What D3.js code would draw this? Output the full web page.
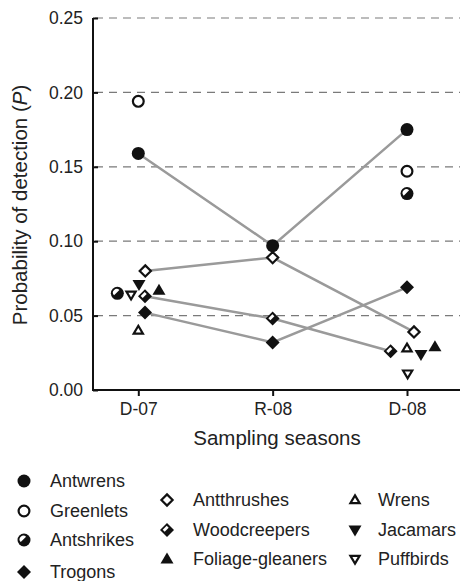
<!DOCTYPE html>
<html><head><meta charset="utf-8">
<script src="https://cdn.jsdelivr.net/npm/d3@7"></script>
<style>body{margin:0;background:#fff}svg{display:block;font-family:"Liberation Sans",Arial,sans-serif}</style>
</head><body><svg id="c" width="460" height="581"></svg>
<script>
const seasons = ["D-07", "R-08", "D-08"];
const yTicks = [0.00, 0.05, 0.10, 0.15, 0.20, 0.25];
const groups = ["Antwrens","Greenlets","Antshrikes","Trogons","Antthrushes","Woodcreepers","Foliage-gleaners","Wrens","Jacamars","Puffbirds"];
const symbols = ["circleFilled","circleOpen","circleHalf","diamondFilled","diamondOpen","diamondHalf","triUpFilled","triUpOpen","triDownFilled","triDownOpen"];
// detection probabilities per season (null = not estimated)
const antwrens      = [0.159, 0.097, 0.175];
const greenlets     = [0.194, null, 0.147];
const antshrikes    = [0.065, null, 0.132];
const trogons       = [0.052, 0.032, 0.069];
const antthrushes   = [0.080, 0.089, 0.039];
const woodcreepers  = [0.063, 0.048, 0.026];
const foliage       = [0.067, null, 0.029];
const wrens         = [0.040, null, 0.028];
const jacamars      = [0.071, null, 0.024];
const puffbirds     = [0.064, null, 0.011];
// horizontal jitter (in season units) used in the original to avoid overlap
const jitterAntwrens     = [0, 0, 0];
const jitterGreenlets    = [0, 0, 0];
const jitterAntshrikes   = [-0.156, 0, 0];
const jitterTrogons      = [0.05, 0, 0];
const jitterAntthrushes  = [0.052, 0, 0.052];
const jitterWoodcreepers = [0.05, 0, -0.122];
const jitterFoliage      = [0.154, 0, 0.208];
const jitterWrens        = [0, 0, 0];
const jitterJacamars     = [0.005, 0, 0.104];
const jitterPuffbirds    = [-0.054, 0, 0.005];
const connected = ["Antwrens","Trogons","Antthrushes","Woodcreepers"];

const values = [antwrens,greenlets,antshrikes,trogons,antthrushes,woodcreepers,foliage,wrens,jacamars,puffbirds];
const jitters = [jitterAntwrens,jitterGreenlets,jitterAntshrikes,jitterTrogons,jitterAntthrushes,jitterWoodcreepers,jitterFoliage,jitterWrens,jitterJacamars,jitterPuffbirds];
const series = groups.map((g,i)=>({name:g, sym:symbols[i],
  pts: values[i].map((v,j)=>({s:j, v:v, x:j+jitters[i][j]})).filter(p=>p.v!==null)}));

const svg = d3.select("#c");
const axisX0 = 93, axisX1 = 460, axisY0 = 390, axisY1 = 18;
const y = d3.scaleLinear().domain([0,0.25]).range([axisY0, axisY1]);
const x = d3.scaleLinear().domain([0,2]).range([138.3, 407]);

// gridlines
svg.append("g").selectAll("line").data(yTicks.filter(t=>t>0)).join("line")
  .attr("x1", axisX0+2).attr("x2", axisX1).attr("y1", d=>y(d)).attr("y2", d=>y(d))
  .attr("stroke","#7a7a7a").attr("stroke-width",1.2).attr("stroke-dasharray","8,6");

// y axis
const ya = svg.append("g").attr("transform",`translate(${axisX0},0)`)
  .call(d3.axisLeft(y).tickValues(yTicks).tickFormat(d3.format(".2f")).tickSize(-5).tickPadding(10));
ya.select(".domain").attr("stroke","#111").attr("stroke-width",2).attr("d",`M0,${axisY1}V${axisY0}`);
ya.selectAll(".tick line").attr("stroke","#111").attr("stroke-width",2);
ya.selectAll(".tick text").attr("font-size",17.5).attr("fill","#222").attr("font-family","Liberation Sans, Arial, sans-serif");

// x axis
const xa = svg.append("g").attr("transform",`translate(0,${axisY0})`)
  .call(d3.axisBottom(x).tickValues([0,1,2]).tickFormat(i=>seasons[i]).tickSize(6).tickPadding(7));
xa.select(".domain").attr("stroke","#111").attr("stroke-width",2).attr("d",`M${axisX0-1},0H${axisX1}`);
xa.selectAll(".tick line").attr("stroke","#111").attr("stroke-width",2);
xa.selectAll(".tick text").attr("font-size",17.5).attr("fill","#222").attr("font-family","Liberation Sans, Arial, sans-serif");

// titles
svg.append("text").attr("x",277).attr("y",445).attr("text-anchor","middle")
  .attr("font-size",20.5).attr("fill","#222").text("Sampling seasons");
const yt = svg.append("text").attr("transform","translate(27,205) rotate(-90)").attr("text-anchor","middle")
  .attr("font-size",20.5).attr("fill","#222");
yt.append("tspan").text("Probability of detection (");
yt.append("tspan").attr("font-style","italic").text("P");
yt.append("tspan").text(")");

// lines
const line = d3.line().x(p=>x(p.x)).y(p=>y(p.v));
svg.append("g").selectAll("path").data(series.filter(s=>connected.includes(s.name))).join("path")
  .attr("d", s=>line(s.pts)).attr("fill","none").attr("stroke","#9a9a9a").attr("stroke-width",2.5);

// marker drawing
function drawMarker(g, sym){
  const r = 6, sw = 2.2;
  if (sym.startsWith("circle")){
    if (sym==="circleFilled") g.append("circle").attr("r",r+0.5).attr("fill","#111");
    else if (sym==="circleOpen") g.append("circle").attr("r",r-0.6).attr("fill","#fff").attr("stroke","#111").attr("stroke-width",sw);
    else {
      g.append("circle").attr("r",r+0.5).attr("fill","#111");
      const a = r-2.2;
      g.append("path").attr("d",`M${-a*0.707},${a*0.707}A${a},${a} 0 0 1 ${a*0.707},${-a*0.707}Z`)
        .attr("transform","translate(-0.6,-0.6)").attr("fill","#fff");
    }
  } else if (sym.startsWith("diamond")){
    const d = 7;
    const path = `M0,${-d}L${d},0L0,${d}L${-d},0Z`;
    if (sym==="diamondFilled") g.append("path").attr("d",path).attr("fill","#111");
    else if (sym==="diamondOpen") g.append("path").attr("d",`M0,${-d+1.4}L${d-1.4},0L0,${d-1.4}L${-d+1.4},0Z`).attr("fill","#fff").attr("stroke","#111").attr("stroke-width",sw);
    else {
      g.append("path").attr("d",path).attr("fill","#111");
      const e = d-3;
      g.append("path").attr("d",`M${-e},0L0,${-e}L${e/2},${-e/2}L${-e/2},${e/2}Z`).attr("transform","translate(-0.3,-0.3)").attr("fill","#fff");
    }
  } else {
    const up = sym.startsWith("triUp");
    const h = 11, w = 13;
    const s = up ? 1 : -1;
    const path = `M0,${-s*h*0.6}L${w/2},${s*h*0.4}L${-w/2},${s*h*0.4}Z`;
    if (sym.endsWith("Filled")) g.append("path").attr("d",path).attr("fill","#111");
    else {
      const h2 = h-3.2, w2 = w-3.8;
      g.append("path").attr("d",`M0,${-s*h2*0.6}L${w2/2},${s*h2*0.4}L${-w2/2},${s*h2*0.4}Z`)
        .attr("fill","#fff").attr("stroke","#111").attr("stroke-width",sw).attr("stroke-linejoin","miter");
    }
  }
}

const pts = [];
series.forEach(s=>s.pts.forEach(p=>pts.push({sym:s.sym, x:p.x, v:p.v})));
svg.append("g").selectAll("g").data(pts).join("g")
  .attr("transform",p=>`translate(${x(p.x)},${y(p.v)})`)
  .each(function(p){ drawMarker(d3.select(this), p.sym); });

// legend
const legendCols = [
  {mx:24, tx:50, rows:[481,511,540,572], items:[0,1,2,3]},
  {mx:167, tx:193, rows:[500,530,559], items:[4,5,6]},
  {mx:355, tx:378, rows:[500,530,559], items:[7,8,9]}
];
const lg = svg.append("g");
legendCols.forEach(c=>{
  c.items.forEach((idx,k)=>{
    const g = lg.append("g").attr("transform",`translate(${c.mx},${c.rows[k]})`);
    drawMarker(g, symbols[idx]);
    lg.append("text").attr("x",c.tx).attr("y",c.rows[k]+6).attr("font-size",18).attr("fill","#222").text(groups[idx]);
  });
});
</script></body></html>
